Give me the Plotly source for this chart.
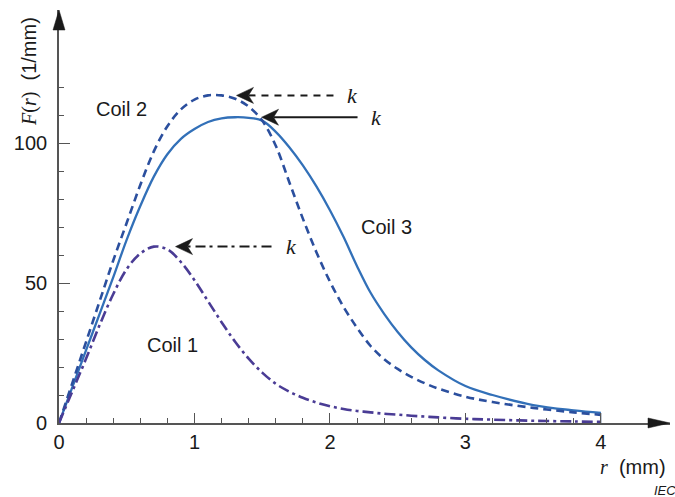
import plotly.graph_objects as go

# Radial distribution F(r) for the three coils, read on a common r grid (mm)
r_mm = [0.0, 0.1, 0.2, 0.3, 0.4, 0.5, 0.6, 0.7, 0.8, 0.9, 1.0, 1.1, 1.2, 1.3, 1.4,
        1.5, 1.6, 1.7, 1.8, 1.9, 2.0, 2.1, 2.2, 2.3, 2.4, 2.5, 2.6, 2.7, 2.8, 3.0,
        3.2, 3.5, 3.8, 4.0]

coil1 = [0.0, 11.5, 23.0, 35.0, 46.0, 55.0, 60.5, 63.0, 62.0, 57.5, 51.0, 43.5,
         36.0, 29.0, 23.0, 18.0, 14.0, 11.2, 9.0, 7.3, 6.0, 5.0, 4.3, 3.8, 3.3,
         3.0, 2.6, 2.3, 2.0, 1.5, 1.2, 0.8, 0.55, 0.4]

coil2 = [0.0, 14.5, 29.0, 43.5, 58.0, 71.5, 85.0, 97.0, 106.0, 112.0, 115.5, 117.0,
         117.0, 115.8, 113.0, 108.0, 99.0, 86.0, 73.0, 61.0, 50.5, 41.5, 34.0, 27.5,
         22.8, 19.3, 16.5, 14.2, 12.3, 9.4, 7.5, 5.4, 3.8, 2.9]

coil3 = [0.0, 13.0, 26.0, 39.0, 52.0, 65.5, 77.5, 88.0, 96.0, 101.5, 105.0, 107.5,
         108.8, 109.2, 109.0, 108.0, 104.0, 98.5, 92.0, 84.5, 76.0, 66.5, 56.0, 46.5,
         39.0, 32.5, 27.0, 22.5, 18.8, 13.2, 10.0, 6.4, 4.5, 3.6]

x_ticks = [0, 1, 2, 3, 4]
x_minor = [0.2, 0.4, 0.6, 0.8, 1.2, 1.4, 1.6, 1.8, 2.2, 2.4, 2.6, 2.8,
           3.2, 3.4, 3.6, 3.8]
y_ticks = [0, 50, 100]
y_minor = [10, 20, 30, 40, 60, 70, 80, 90, 110, 120]

X_MAX = 4.51
Y_MAX = 147.5

C1 = "#4a3c95"
C2 = "#2b4f9e"
C3 = "#3270b8"
AXIS = "#555555"
INK = "#1a1a1a"
SANS = "Liberation Sans, Arial, sans-serif"
SERIF = "Liberation Serif, Times New Roman, serif"

fig = go.Figure()

fig.add_trace(go.Scatter(x=r_mm, y=coil3, mode="lines", line_shape="spline",
                         line=dict(color=C3, width=2.3), name="Coil 3"))
fig.add_trace(go.Scatter(x=r_mm, y=coil2, mode="lines", line_shape="spline",
                         line=dict(color=C2, width=2.6, dash="8px,5px"), name="Coil 2"))
fig.add_trace(go.Scatter(x=r_mm, y=coil1, mode="lines", line_shape="spline",
                         line=dict(color=C1, width=2.6, dash="11px,4px,3px,4px"),
                         name="Coil 1"))
# closing edge of the curves at the end of the r range
fig.add_trace(go.Scatter(x=[r_mm[-1], r_mm[-1]], y=[0, max(coil1[-1], coil2[-1], coil3[-1])],
                         mode="lines", line=dict(color="#7f8fa6", width=1.2)))

shapes = []
annotations = []


def arrowhead_left(xa, ya):
    return dict(type="path", xref="x", yref="y", xsizemode="pixel", ysizemode="pixel",
                xanchor=xa, yanchor=ya, path="M0,0 L17,-8 L12,0 L17,8 Z",
                fillcolor=INK, line=dict(color=INK, width=0.5))


def k_arrow(x_tip, y_val, tail_px, dash, label_px):
    # shaft drawn in pixel units from the arrow tip
    shapes.append(dict(type="line", xref="x", yref="y", xsizemode="pixel",
                       ysizemode="pixel", xanchor=x_tip, yanchor=y_val,
                       x0=12, x1=tail_px, y0=0, y1=0,
                       line=dict(color=INK, width=2, dash=dash)))
    shapes.append(arrowhead_left(x_tip, y_val))
    annotations.append(dict(x=x_tip, y=y_val, xref="x", yref="y", xshift=label_px,
                            text="<i>k</i>", showarrow=False, xanchor="center",
                            yanchor="middle",
                            font=dict(family=SERIF, size=22, color=INK)))


k_arrow(1.31, max(coil2), 103, "7px,6px", 116)
k_arrow(1.495, max(coil3), 96, "solid", 115)
k_arrow(0.86, max(coil1), 96, "3px,5px,10px,4px", 116)

# axis arrowheads (paper-referenced so they are not clipped by the plot area)
shapes.append(dict(type="path", xref="paper", yref="paper", xsizemode="pixel",
                   ysizemode="pixel", xanchor=1, yanchor=0,
                   path="M0,0 L-22,-5 L-22,5 Z",
                   fillcolor=INK, line=dict(color=INK, width=0.5)))
shapes.append(dict(type="path", xref="paper", yref="paper", xsizemode="pixel",
                   ysizemode="pixel", xanchor=0, yanchor=1,
                   path="M0,0 L-6,-20 L6,-20 Z",
                   fillcolor=INK, line=dict(color=INK, width=0.5)))

# curve labels
for txt, xv, yv in [("Coil 2", 0.46, 112), ("Coil 3", 2.42, 70), ("Coil 1", 0.84, 28)]:
    annotations.append(dict(x=xv, y=yv, xref="x", yref="y", text=txt, showarrow=False,
                            font=dict(family=SANS, size=20, color=INK)))

# axis titles
annotations.append(dict(x=0, y=0.85, xref="paper", yref="paper", xanchor="center",
                        yanchor="middle", xshift=-29,
                        textangle=-90, showarrow=False,
                        text=f'<span style="font-family:{SERIF}"><i>F</i>(<i>r</i>)</span>  (1/mm)',
                        font=dict(family=SANS, size=20, color=INK)))
annotations.append(dict(x=1.0, y=0, xref="paper", yref="paper", xanchor="right",
                        yanchor="middle", xshift=-2, yshift=-44, showarrow=False,
                        text=f'<span style="font-family:{SERIF}"><i>r</i></span>  (mm)',
                        font=dict(family=SANS, size=20, color=INK)))
annotations.append(dict(x=1.0, y=0, xref="paper", yref="paper", xanchor="left",
                        yanchor="middle", xshift=-18, yshift=-67, showarrow=False,
                        text="<i>IEC</i>",
                        font=dict(family=SANS, size=13, color=INK)))

fig.update_layout(
    width=675, height=497,
    margin=dict(l=59, r=5, t=10, b=74),
    paper_bgcolor="white", plot_bgcolor="white",
    showlegend=False,
    shapes=shapes, annotations=annotations,
    xaxis=dict(range=[0, X_MAX], showgrid=False, zeroline=False,
               showline=True, linecolor=AXIS, linewidth=1.6,
               ticks="inside", tickvals=x_ticks, ticklen=10, tickwidth=1.4, tickcolor=AXIS,
               minor=dict(tickvals=x_minor, ticks="inside", ticklen=5, tickwidth=1,
                          tickcolor=AXIS),
               tickfont=dict(family=SANS, size=20, color=INK)),
    yaxis=dict(range=[0, Y_MAX], showgrid=False, zeroline=False,
               showline=True, linecolor=AXIS, linewidth=1.6,
               ticks="inside", tickvals=y_ticks, ticklen=11, tickwidth=1.4, tickcolor=AXIS,
               minor=dict(tickvals=y_minor, ticks="inside", ticklen=5, tickwidth=1,
                          tickcolor=AXIS),
               ticklabelstandoff=6,
               tickfont=dict(family=SANS, size=20, color=INK)),
)

fig.write_html("out.html")
